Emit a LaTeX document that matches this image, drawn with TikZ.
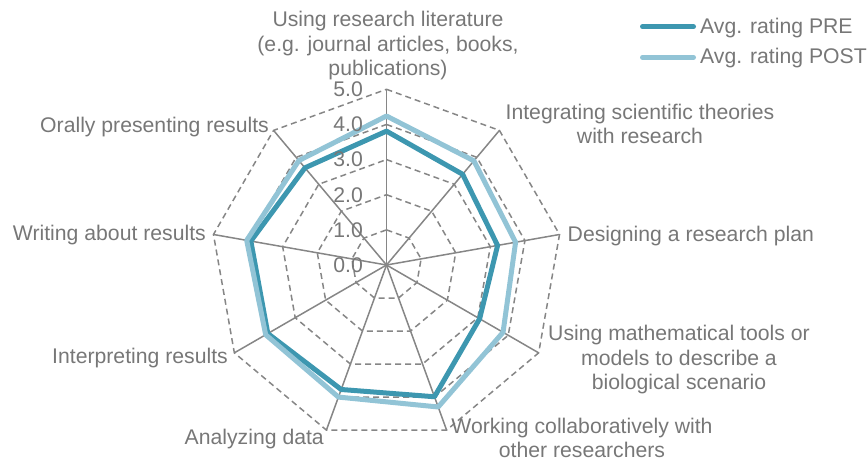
\documentclass[tikz,border=0pt]{standalone}
\usepackage{fontspec}
\setmainfont{Liberation Sans}
\usetikzlibrary{calc,positioning}
\definecolor{txtgray}{HTML}{777777}
\definecolor{gridgray}{HTML}{868686}
\definecolor{preblue}{HTML}{3D97B0}
\definecolor{postblue}{HTML}{92C4D6}

\begin{document}
\begin{tikzpicture}[x=1pt,y=-1pt]

\tikzstyle{lbl}=[text=txtgray, inner sep=0pt, font=\fontsize{21.2}{24.3}\selectfont]
\tikzstyle{spoke}=[draw=gridgray, line width=1.5pt]
\tikzstyle{ring}=[draw=gridgray, line width=1.5pt, dash pattern=on 6pt off 4pt]
\tikzstyle{preline}=[draw=preblue, line width=5pt, line join=round]
\tikzstyle{postline}=[draw=postblue, line width=5pt, line join=round]

\useasboundingbox (0,0) rectangle (868,460);

% axes
\coordinate (c) at (386.5,265);
\foreach \i in {0,...,8}
  \coordinate (ax\i) at ({386.5+175.7*sin(40*\i)},{265-175.7*cos(40*\i)});

\foreach \k in {1,...,5}
  \draw[ring] ($(c)!\k/5!(ax0)$) \foreach \i in {1,...,8}{ -- ($(c)!\k/5!(ax\i)$)} -- cycle;
\foreach \i in {0,...,8}
  \draw[spoke] (c) -- (ax\i);

% series
\foreach \v [count=\i from 0] in {3.81,3.37,3.21,3.06,3.99,3.77,3.90,3.92,3.61}
  \coordinate (pre\i) at ($(c)!\v/5!(ax\i)$);
\foreach \v [count=\i from 0] in {4.24,3.87,3.73,3.83,4.30,4.00,3.97,4.04,3.88}
  \coordinate (post\i) at ($(c)!\v/5!(ax\i)$);

\draw[preline] (pre0) \foreach \i in {1,...,8}{ -- (pre\i)} -- cycle;
\draw[postline] (post0) \foreach \i in {1,...,8}{ -- (post\i)} -- cycle;

% scale
\foreach \k in {0,...,5}
  \node[lbl, anchor=base east] (tick\k) at (363,{265-35.14*\k+7.3}) {\k.0};

% categories
\node[lbl, align=center, anchor=north] (catLit) at (388,11.4) {Using research literature\\(e.g. journal articles, books,\\publications)};
\node[lbl, align=center, anchor=north] (catTheo) at (640,104) {Integrating scientific theories\\with research};
\node[lbl, anchor=base west] (catPlan) at (567.5,241.3) {Designing a research plan};
\node[lbl, align=center, anchor=north] (catMath) at (679,325.4) {Using mathematical tools or\\models to describe a\\biological scenario};
\node[lbl, align=center, anchor=north] (catTeam) at (582,418) {Working collaboratively with\\other researchers};
\node[lbl, anchor=base east] (catData) at (324,444.3) {Analyzing data};
\node[lbl, anchor=base east] (catInterp) at (228,363.3) {Interpreting results};
\node[lbl, anchor=base east] (catWrite) at (206,240) {Writing about results};
\node[lbl, anchor=base east] (catOral) at (269,132.3) {Orally presenting results};

% legend
\coordinate (legPreA) at (642.5,26.7);
\coordinate (legPreB) at (693.5,26.7);
\coordinate (legPostA) at (642.5,57.3);
\coordinate (legPostB) at (693.5,57.3);
\draw[preline, line cap=round] (legPreA) -- (legPreB);
\draw[postline, line cap=round] (legPostA) -- (legPostB);
\node[lbl, anchor=base west] (legPre) at (700,33.3) {Avg. rating PRE};
\node[lbl, anchor=base west] (legPost) at (700,63.3) {Avg. rating POST};

\end{tikzpicture}
\end{document}
